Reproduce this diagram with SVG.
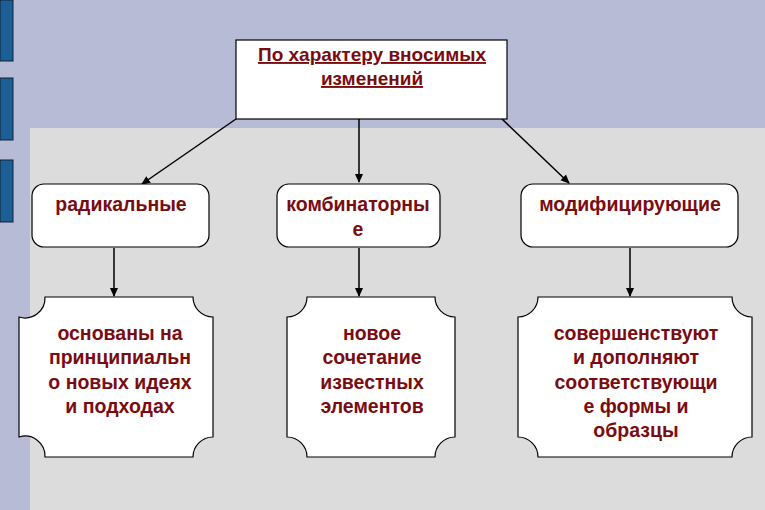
<svg xmlns="http://www.w3.org/2000/svg" width="765" height="510" viewBox="0 0 765 510">
<style>
text{font-family:"Liberation Sans",Arial,sans-serif;font-weight:bold;font-size:19.5px;fill:#7a0c10;text-anchor:middle}
.b{fill:#fff;stroke:#000;stroke-width:1.2}
.c{stroke:#000;stroke-width:1.5;fill:none;marker-end:url(#a)}
</style>
<defs><marker id="a" markerWidth="10" markerHeight="10" refX="8" refY="5" orient="auto" markerUnits="userSpaceOnUse"><path d="M0,1 L9,5 L0,9 Z" fill="#000"/></marker></defs>
<rect width="765" height="510" fill="#b8bbd6"/>
<rect x="30" y="128" width="735" height="382" fill="#dcdcdc"/>
<g fill="#1c5f96" stroke="#123" stroke-width="1"><rect x="0" y="0" width="13" height="61"/><rect x="0" y="78" width="13" height="62"/><rect x="0" y="160" width="13" height="62"/></g>
<g id="connectors">
<line class="c" x1="236" y1="119" x2="142" y2="184"/>
<line class="c" x1="359" y1="119" x2="359" y2="182"/>
<line class="c" x1="502" y1="119" x2="569" y2="183"/>
<line class="c" x1="114" y1="248" x2="114" y2="296"/>
<line class="c" x1="359" y1="248" x2="359" y2="296"/>
<line class="c" x1="630" y1="248" x2="630" y2="296"/>
</g>
<g id="top"><rect class="b" x="236" y="40" width="271" height="79"/><text x="372" y="61" text-decoration="underline" style="font-size:19px">По характеру вносимых</text><text x="372" y="85" text-decoration="underline" style="font-size:19px">изменений</text></g>
<g id="n1"><rect class="b" x="32" y="184" width="177" height="63" rx="12"/><text x="121" y="211">радикальные</text></g>
<g id="n2"><rect class="b" x="277" y="184" width="163" height="63" rx="12"/><text x="358" y="211">комбинаторны</text><text x="358" y="236">е</text></g>
<g id="n3"><rect class="b" x="521" y="184" width="217" height="63" rx="12"/><text x="630" y="211">модифицирующие</text></g>
<g id="p1"><path class="b" d="M45,297 H193 A20,20 0 0 0 213,317 V437 A20,20 0 0 0 193,457 H45 A20,20 0 0 0 19,437 V317 A20,20 0 0 0 45,297 Z"/><text x="120" y="340">основаны на</text><text x="120" y="364">принципиальн</text><text x="120" y="389">о новых идеях</text><text x="120" y="413">и подходах</text></g>
<g id="p2"><path class="b" d="M307,297 H435 A20,20 0 0 0 455,317 V437 A20,20 0 0 0 435,457 H307 A20,20 0 0 0 287,437 V317 A20,20 0 0 0 307,297 Z"/><text x="372" y="340">новое</text><text x="372" y="364">сочетание</text><text x="372" y="389">известных</text><text x="372" y="413">элементов</text></g>
<g id="p3"><path class="b" d="M538,297 H732 A20,20 0 0 0 752,317 V437 A20,20 0 0 0 732,457 H538 A20,20 0 0 0 518,437 V317 A20,20 0 0 0 538,297 Z"/><text x="636" y="340">совершенствуют</text><text x="636" y="364">и дополняют</text><text x="636" y="389">соответствующи</text><text x="636" y="413">е формы и</text><text x="636" y="437">образцы</text></g>
</svg>
